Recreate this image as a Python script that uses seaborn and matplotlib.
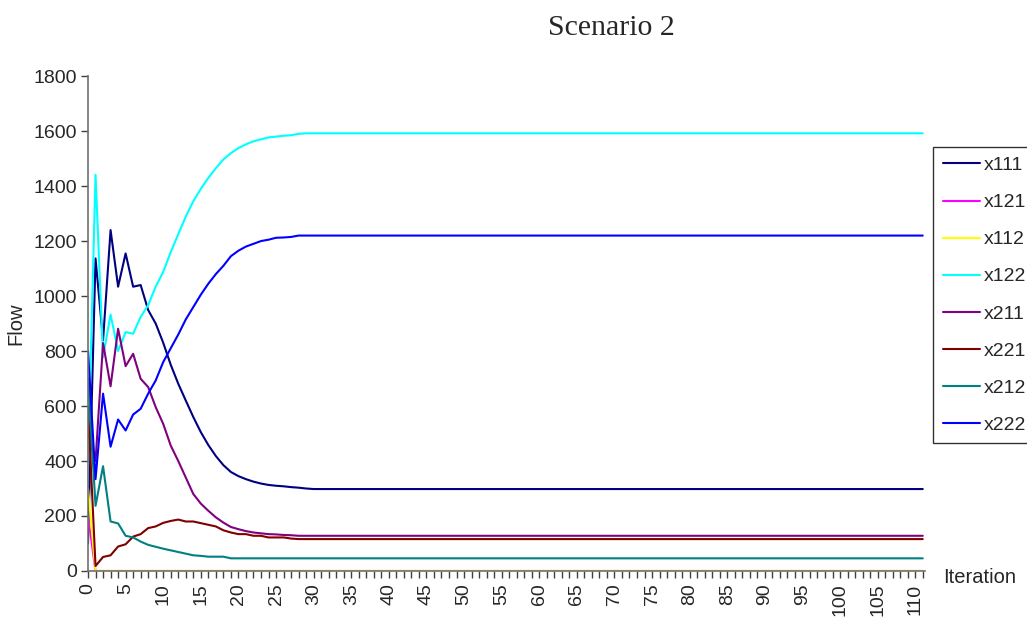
import numpy as np
import pandas as pd
import matplotlib
matplotlib.use("Agg")
import matplotlib.pyplot as plt
import seaborn as sns

# iterations 0..111
n_iter = 112
iterations = list(range(n_iter))

# values (transient part, then the flat plateau)
x111 = [100, 1137, 839, 1240, 1034, 1155, 1034, 1040, 949, 900,
        830, 750, 681, 620, 560, 505, 458, 418, 385, 360,
        345, 334, 325, 318, 313, 310, 308, 305, 303, 300]
x111 += [298] * (n_iter - len(x111))

x121 = [200, 0]
x121 += [0] * (n_iter - len(x121))

x112 = [300, 0]
x112 += [0] * (n_iter - len(x112))

x122 = [400, 1441, 778, 933, 800, 869, 863, 924, 967, 1034,
        1088, 1160, 1225, 1289, 1345, 1390, 1430, 1465, 1497, 1520,
        1538, 1552, 1563, 1570, 1577, 1580, 1583, 1585, 1590]
x122 += [1592] * (n_iter - len(x122))

x211 = [500, 400, 829, 672, 881, 745, 790, 699, 669, 596,
        535, 456, 400, 340, 280, 245, 219, 195, 176, 160,
        152, 145, 140, 137, 134, 133, 131, 130]
x211 += [128] * (n_iter - len(x211))

x221 = [600, 18, 51, 57, 89, 97, 125, 134, 156, 162,
        175, 182, 187, 180, 180, 174, 168, 162, 148, 140,
        134, 134, 128, 128, 122, 122, 122, 118]
x221 += [116] * (n_iter - len(x221))

x212 = [700, 237, 381, 180, 173, 128, 122, 107, 95, 88,
        81, 75, 69, 63, 57, 55, 52, 52, 52]
x212 += [46] * (n_iter - len(x212))

x222 = [800, 334, 645, 452, 551, 511, 569, 590, 645, 693,
        760, 810, 860, 915, 960, 1005, 1045, 1080, 1110, 1145,
        1165, 1180, 1190, 1200, 1205, 1212, 1213, 1215]
x222 += [1220] * (n_iter - len(x222))

series_names = ["x111", "x121", "x112", "x122", "x211", "x221", "x212", "x222"]
series_values = [x111, x121, x112, x122, x211, x221, x212, x222]
colors = ["#000080", "#FF00FF", "#FFFF00", "#00FFFF",
          "#800080", "#800000", "#008080", "#0000FF"]

rows = []
for name, vals in zip(series_names, series_values):
    for it, v in zip(iterations, vals):
        rows.append({"Iteration": it, "Flow": v, "series": name})
df = pd.DataFrame(rows)

sns.set_style("ticks")
plt.rcParams["font.family"] = ["Liberation Sans", "DejaVu Sans"]

fig = plt.figure(figsize=(10.27, 6.28), dpi=100)
ax = fig.add_axes([0.0857, 0.0908, 0.815, 0.788])

sns.lineplot(data=df, x="Iteration", y="Flow", hue="series",
             hue_order=series_names, palette=dict(zip(series_names, colors)),
             linewidth=1.5, ax=ax)

ax.set_xlim(0, 111.3)
ax.set_ylim(0, 1800)
ax.set_yticks(range(0, 1801, 200))
ax.set_xticks(range(0, 111, 5))
ax.set_xticks(range(0, 112), minor=True)
ax.tick_params(axis="x", which="both", direction="out", length=5, width=1,
               color="#404040", labelsize=14, labelrotation=90, pad=4)
ax.tick_params(axis="y", direction="out", length=5, width=1,
               color="#404040", labelsize=14, pad=3)
for side in ["top", "right"]:
    ax.spines[side].set_visible(False)
for side in ["left", "bottom"]:
    ax.spines[side].set_color("#707070")
    ax.spines[side].set_linewidth(1.2)

ax.set_xlabel("")
ax.set_ylabel("Flow", fontsize=14.5, labelpad=6)
fig.text(0.918, 0.081, "Iteration", fontsize=14.5, ha="left", va="center")
fig.text(0.595, 0.955, "Scenario 2", fontsize=21.5, ha="center", va="center",
         family=["Liberation Serif", "DejaVu Serif"])

leg = ax.legend(loc="upper left", bbox_to_anchor=(0.9085, 0.766),
                bbox_transform=fig.transFigure, frameon=True, fancybox=False,
                fontsize=14, handlelength=1.9, handletextpad=0.2,
                labelspacing=1.0, borderpad=0.5, borderaxespad=0)
leg.get_frame().set_edgecolor("black")
leg.get_frame().set_linewidth(1.0)
for line in leg.get_lines():
    line.set_linewidth(1.5)

fig.savefig("out.png", dpi=100)
